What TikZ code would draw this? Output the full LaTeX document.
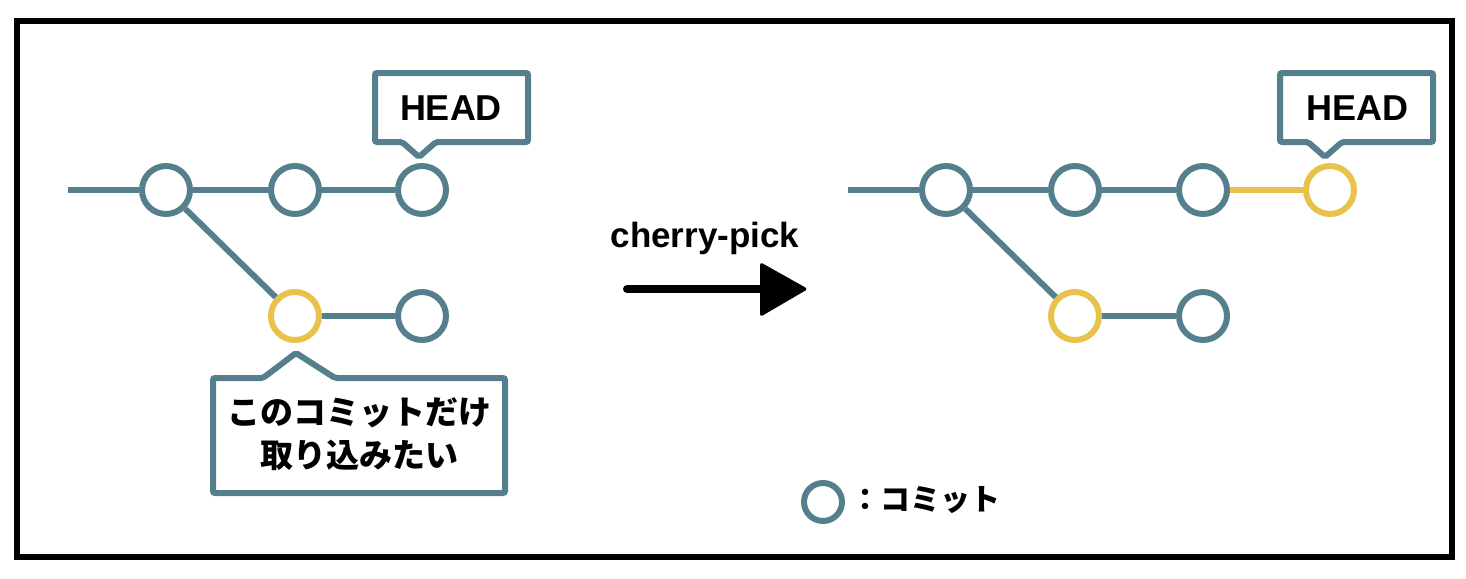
\documentclass[tikz,border=0pt]{standalone}
\usepackage{fontspec}
\setmainfont{Liberation Sans}
\newfontfamily\jpfont{Noto Sans CJK JP}
\definecolor{teal}{HTML}{557F8C}
\definecolor{gold}{HTML}{E8C24A}
\begin{document}
\begin{tikzpicture}[x=1pt,y=-1pt,
  commit/.style={circle,draw=teal,line width=6pt,minimum size=48pt,inner sep=0pt,fill=white},
  pick/.style={commit,draw=gold},
  edge/.style={draw=teal,line width=6pt},
  pickedge/.style={draw=gold,line width=6pt},
  callout/.style={draw=teal,line width=6pt,rounded corners=2pt,fill=white},
  headtxt/.style={font=\fontsize{36}{40}\selectfont\bfseries},
  jptxt/.style={font=\jpfont\bfseries\fontsize{33}{43}\selectfont,align=center}]
\useasboundingbox (0,0) rectangle (1466,578);
\draw[line width=6pt] (17,21) rectangle (1452,557);
% left graph
\coordinate (ls) at (68,190);
\node[commit] (l1) at (166,190) {};
\node[commit] (l2) at (295,190) {};
\node[commit] (l3) at (422,190) {};
\node[pick] (l4) at (295,316) {};
\node[commit] (l5) at (422,316) {};
\draw[edge] (ls) -- (l1);
\draw[edge] (l1) -- (l2);
\draw[edge] (l2) -- (l3);
\draw[edge] (l1) -- (l4);
\draw[edge] (l4) -- (l5);
% left HEAD callout
\draw[callout] (375,73) -- (528,73) -- (528,142) -- (436,142) -- (419,157) -- (402,142) -- (375,142) -- cycle;
\node[headtxt] (lh) at (451,108) {HEAD};
% bottom callout
\draw[callout] (213,378) -- (263,378) -- (296,353) -- (335,378) -- (505,378) -- (505,493) -- (213,493) -- cycle;
\node[jptxt] (lt) at (359,434) {このコミットだけ\\取り込みたい};
% arrow
\node[font=\fontsize{35}{40}\selectfont\bfseries] (cp) at (705,238) {cherry-pick};
\coordinate (a1) at (627,289);
\coordinate (a2) at (764,289);
\draw[line width=8pt,line cap=round] (a1) -- (a2);
\fill[rounded corners=3pt] (760,262) -- (808,289) -- (760,317) -- cycle;
% right graph
\coordinate (rs) at (848,190);
\node[commit] (r1) at (946,190) {};
\node[commit] (r2) at (1075,190) {};
\node[commit] (r3) at (1203,190) {};
\node[pick] (r6) at (1330,190) {};
\node[pick] (r4) at (1075,316) {};
\node[commit] (r5) at (1203,316) {};
\draw[edge] (rs) -- (r1);
\draw[edge] (r1) -- (r2);
\draw[edge] (r2) -- (r3);
\draw[pickedge] (r3) -- (r6);
\draw[edge] (r1) -- (r4);
\draw[edge] (r4) -- (r5);
\draw[callout] (1280,73) -- (1433,73) -- (1433,142) -- (1342,142) -- (1325,157) -- (1308,142) -- (1280,142) -- cycle;
\node[headtxt] (rh) at (1357,108) {HEAD};
% legend
\node[commit,minimum size=38pt] (lg) at (823,502) {};
\node[font=\jpfont\bfseries\fontsize{30}{34}\selectfont,anchor=west,inner sep=0pt] (lgt) at (850,500) {：コミット};
\end{tikzpicture}
\end{document}
